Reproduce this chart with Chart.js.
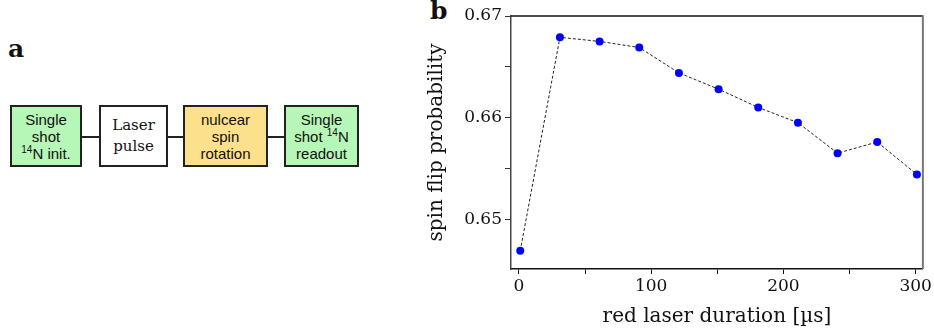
<!DOCTYPE html>
<html>
<head>
<meta charset="utf-8">
<script src="https://cdn.jsdelivr.net/npm/chart.js@4.4.0/dist/chart.umd.min.js"></script>
<style>
  html, body { margin: 0; padding: 0; background: #fff; }
  #page { position: relative; width: 934px; height: 336px; overflow: hidden; }
  .panel-label { position: absolute; font-family: "DejaVu Serif", serif; font-weight: bold; font-size: 25px; color: #111; }
  .box {
    position: absolute; top: 105px; height: 62px; box-sizing: border-box;
    border: 2px solid #222; display: flex; flex-direction: column;
    justify-content: center; align-items: center; text-align: center;
    font-family: "Liberation Sans", Arial, sans-serif; font-size: 15px; line-height: 17px; color: #111;
  }
  .box sup { font-size: 10px; line-height: 0; vertical-align: 6px; }
  .green { background: #b6f6b6; }
  .orange { background: #fde08c; }
  .serif { font-family: "DejaVu Serif", serif; font-size: 15px; line-height: 21px; }
  .link { position: absolute; top: 136px; height: 2px; background: #222; }
  #chartBox { position: absolute; left: 420px; top: 0; width: 514px; height: 336px; }
</style>
</head>
<body>
<div id="page">
  <div class="panel-label" style="left:8px; top:34px;">a</div>
  <div class="box green" style="left:10px; width:72px;"><div>Single</div><div>shot</div><div><sup>14</sup>N init.</div></div>
  <div class="link" style="left:82px; width:17px;"></div>
  <div class="box serif" style="left:99px; width:69px;"><div>Laser</div><div>pulse</div></div>
  <div class="link" style="left:168px; width:15px;"></div>
  <div class="box orange" style="left:183px; width:85px;"><div>nulcear</div><div>spin</div><div>rotation</div></div>
  <div class="link" style="left:268px; width:16px;"></div>
  <div class="box green" style="left:284px; width:75px;"><div>Single</div><div>shot <sup>14</sup>N</div><div>readout</div></div>

  <div class="panel-label" style="left:430px; top:-4px;">b</div>
  <div id="chartBox"><canvas id="chart" width="514" height="336"></canvas></div>
</div>
<script>
  "use strict";

  // red laser duration [µs]
  const durations = [1, 31, 61, 91, 121, 151, 181, 211, 241, 271, 301];
  // spin flip probability
  const flipProb = [0.6469, 0.6679, 0.6675, 0.6669, 0.6644, 0.6628, 0.6610, 0.6595, 0.6565, 0.6576, 0.6544];

  const xTicks = [0, 50, 100, 150, 200, 250, 300];
  const xLabeled = [0, 100, 200, 300];
  const yTicks = [0.65, 0.655, 0.66, 0.665, 0.67];
  const yLabeled = [0.65, 0.66, 0.67];

  const serif = "'DejaVu Serif', serif";

  // top + right frame lines
  const framePlugin = {
    id: "frame",
    afterDraw(chart) {
      const {ctx, chartArea: a} = chart;
      ctx.save();
      ctx.strokeStyle = "#111";
      ctx.lineWidth = 1.5;
      ctx.beginPath();
      ctx.moveTo(a.left, a.top);
      ctx.lineTo(a.right, a.top);
      ctx.stroke();
      ctx.strokeStyle = "#777";
      ctx.lineWidth = 2;
      ctx.beginPath();
      ctx.moveTo(a.right, a.top - 0.75);
      ctx.lineTo(a.right, a.bottom);
      ctx.stroke();
      ctx.restore();
    },
  };

  const isIn = (list, v) => list.some((t) => Math.abs(t - v) < 1e-9);

  new Chart(document.getElementById("chart"), {
    type: "line",
    data: {
      datasets: [{
        data: durations.map((d, i) => ({x: d, y: flipProb[i]})),
        borderColor: "#222",
        borderWidth: 1,
        borderDash: [3, 2],
        pointRadius: 4,
        pointBackgroundColor: "#0000ff",
        pointBorderWidth: 0,
        tension: 0,
        clip: false,
      }],
    },
    options: {
      responsive: false,
      animation: false,
      devicePixelRatio: 1,
      layout: {padding: {top: 16, right: 10, left: 0, bottom: 0}},
      plugins: {legend: {display: false}, tooltip: {enabled: false}},
      scales: {
        x: {
          type: "linear",
          min: -6,
          max: 305.5,
          afterBuildTicks: (s) => { s.ticks = xTicks.map((v) => ({value: v})); },
          afterFit: (s) => { s.height = 67; },
          grid: {drawOnChartArea: false, drawTicks: true, tickLength: 5, color: "#111"},
          border: {display: true, color: "#111", width: 1.5},
          ticks: {
            autoSkip: false, maxRotation: 0, padding: 2, color: "#111",
            font: {family: serif, size: 17},
            callback: (v) => isIn(xLabeled, v) ? String(v) : "",
          },
          title: {
            display: true, text: "red laser duration [µs]", color: "#111",
            font: {family: serif, size: 20}, padding: {top: 0, bottom: 7},
          },
        },
        y: {
          type: "linear",
          min: 0.6451,
          max: 0.67,
          afterBuildTicks: (s) => { s.ticks = yTicks.map((v) => ({value: v})); },
          afterFit: (s) => { s.width = 91; },
          grid: {drawOnChartArea: false, drawTicks: true, tickLength: 6, color: "#333"},
          border: {display: true, color: "#444", width: 1.5},
          ticks: {
            autoSkip: false, padding: 3, color: "#111",
            font: {family: serif, size: 17},
            callback: (v) => isIn(yLabeled, v) ? v.toFixed(2) : "",
          },
          title: {
            display: true, text: "spin flip probability", color: "#111",
            font: {family: serif, size: 20}, padding: {top: 5, bottom: 0},
          },
        },
      },
    },
    plugins: [framePlugin],
  });
</script>
</body>
</html>
